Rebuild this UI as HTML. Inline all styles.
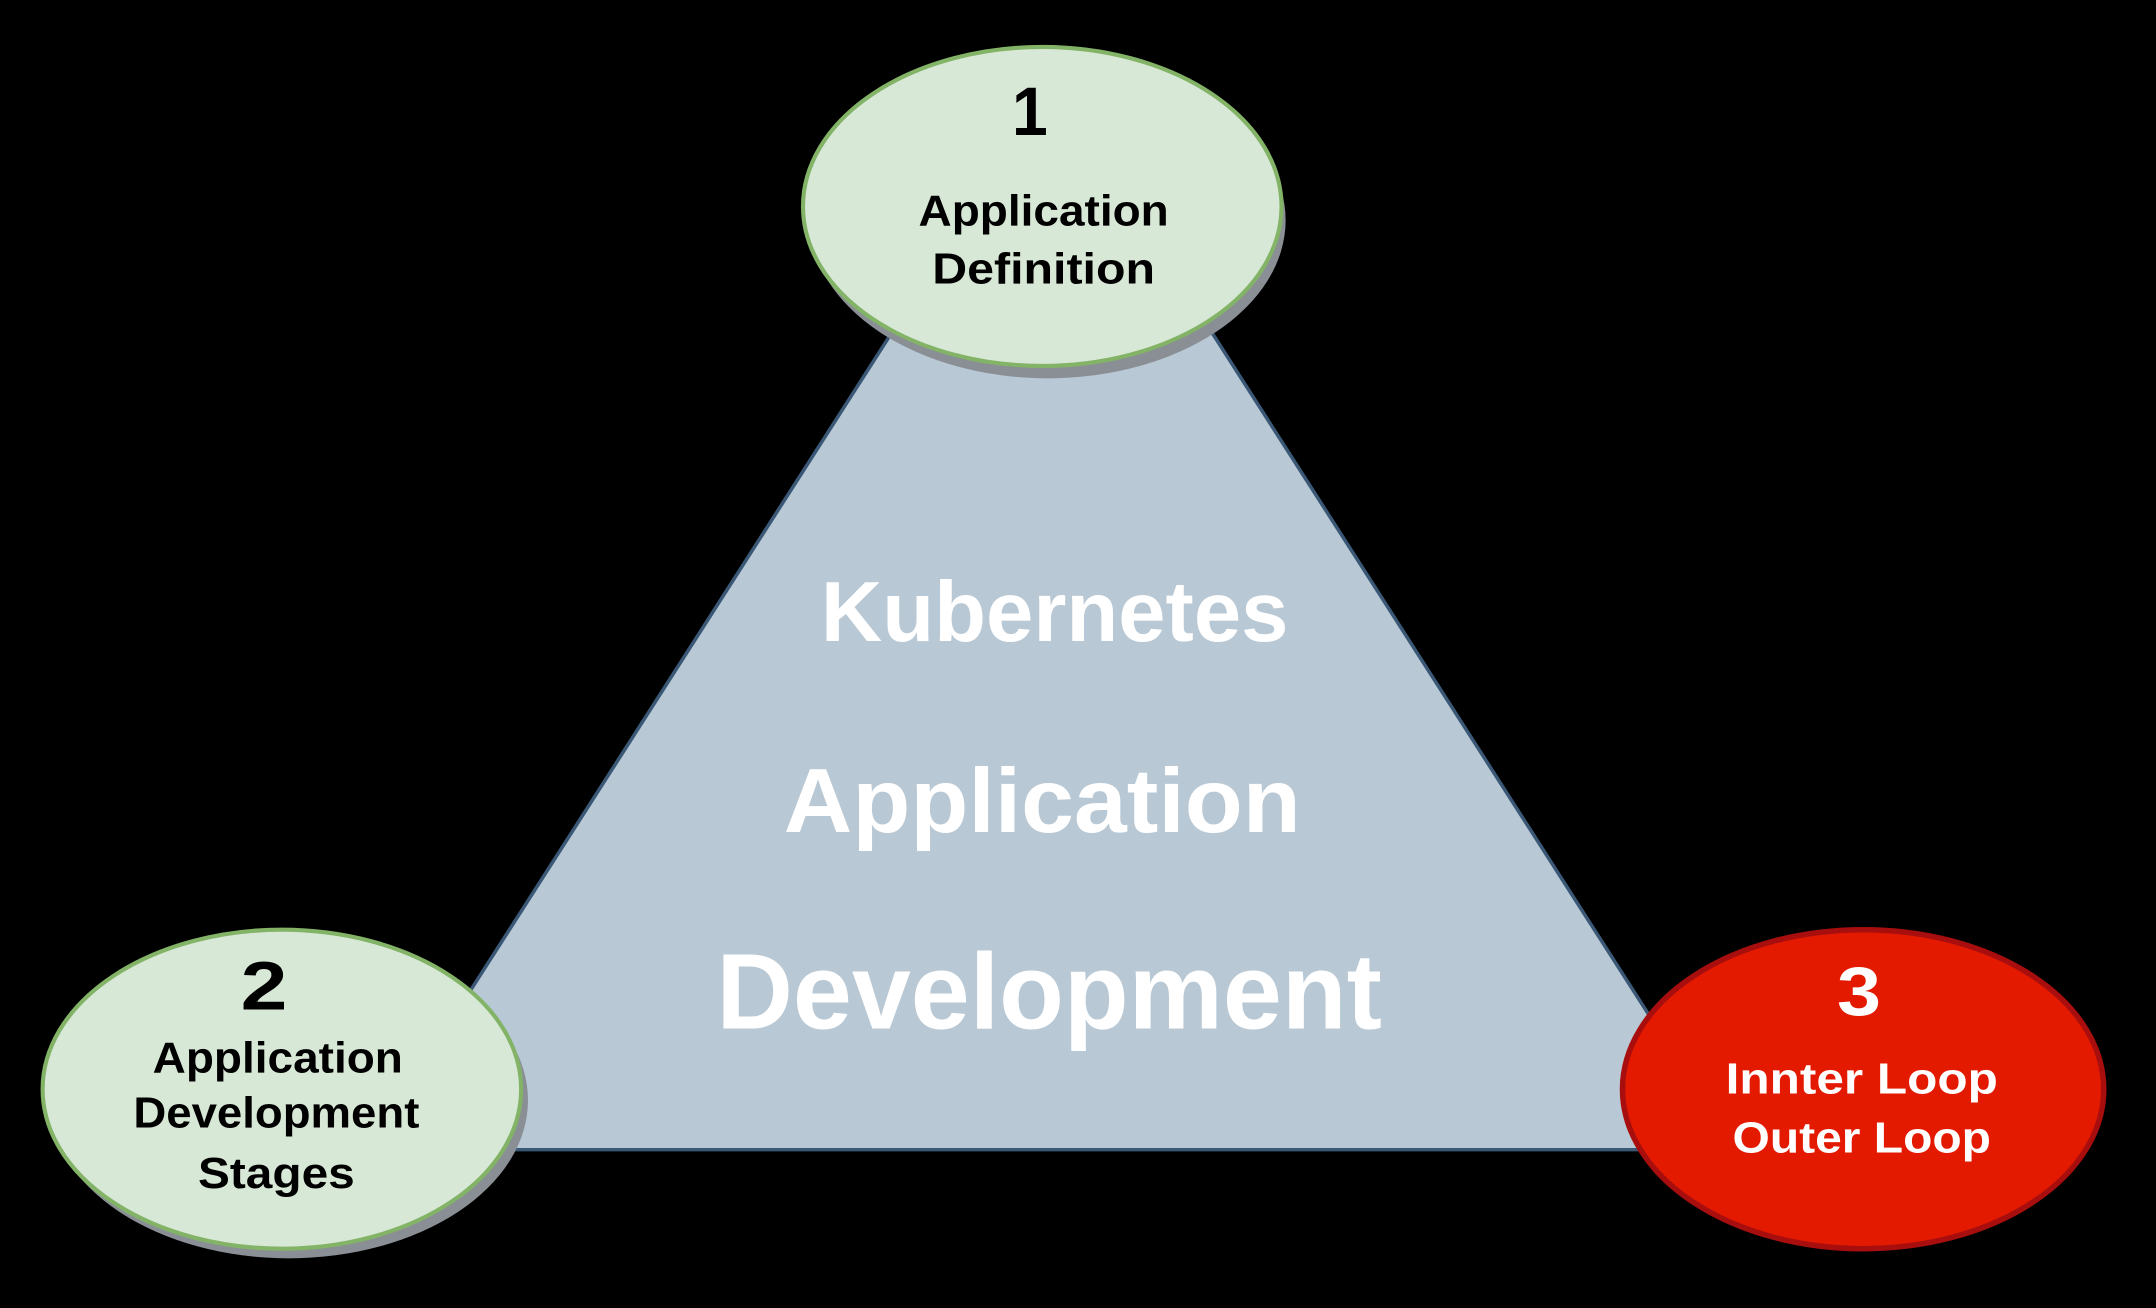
<!DOCTYPE html>
<html><head><style>
html,body{margin:0;padding:0;background:#000;}
svg{display:block;}
text{font-family:"Comic Sans MS","Liberation Sans","DejaVu Sans",sans-serif;font-weight:bold;text-anchor:middle;}
</style></head><body>
<svg width="2156" height="1308" viewBox="0 0 1568 951" xmlns="http://www.w3.org/2000/svg">
<rect width="1568" height="951" fill="#000"/>
<polygon points="765,60 268,836 1262,836" fill="#b8c8d4" stroke="#3a5875" stroke-width="2.5"/>
<text x="767" y="466" font-size="62" fill="#fff" textLength="340" lengthAdjust="spacingAndGlyphs">Kubernetes</text>
<text x="758" y="605" font-size="66" fill="#fff" textLength="376" lengthAdjust="spacingAndGlyphs">Application</text>
<text x="763" y="748" font-size="78" fill="#fff" textLength="484" lengthAdjust="spacingAndGlyphs">Development</text>
<!-- ellipse 1 -->
<ellipse cx="762" cy="160" rx="173" ry="115" fill="#8a8f96"/>
<ellipse cx="758" cy="150" rx="174" ry="116" fill="#d8e8d6" stroke="#82b366" stroke-width="3"/>
<text x="749" y="98" font-size="50" fill="#000" textLength="26" lengthAdjust="spacingAndGlyphs">1</text>
<text x="759" y="164" font-size="32" fill="#000" textLength="182" lengthAdjust="spacingAndGlyphs">Application</text>
<text x="759" y="206" font-size="32" fill="#000" textLength="162" lengthAdjust="spacingAndGlyphs">Definition</text>
<!-- ellipse 2 -->
<ellipse cx="210" cy="800" rx="174" ry="115" fill="#8a8f96"/>
<ellipse cx="205" cy="792" rx="174" ry="116" fill="#d8e8d6" stroke="#82b366" stroke-width="3"/>
<text x="192" y="734" font-size="50" fill="#000" textLength="34" lengthAdjust="spacingAndGlyphs">2</text>
<text x="202" y="780" font-size="32" fill="#000" textLength="182" lengthAdjust="spacingAndGlyphs">Application</text>
<text x="201" y="820" font-size="32" fill="#000" textLength="208" lengthAdjust="spacingAndGlyphs">Development</text>
<text x="201" y="864" font-size="32" fill="#000" textLength="114" lengthAdjust="spacingAndGlyphs">Stages</text>
<!-- ellipse 3 -->
<ellipse cx="1355" cy="792" rx="175" ry="116" fill="#e31a00" stroke="#a80e0e" stroke-width="4"/>
<text x="1352" y="738" font-size="50" fill="#fff" textLength="32" lengthAdjust="spacingAndGlyphs">3</text>
<text x="1354" y="795" font-size="32" fill="#fff" textLength="198" lengthAdjust="spacingAndGlyphs">Innter Loop</text>
<text x="1354" y="838" font-size="32" fill="#fff" textLength="188" lengthAdjust="spacingAndGlyphs">Outer Loop</text>
</svg>
</body></html>
